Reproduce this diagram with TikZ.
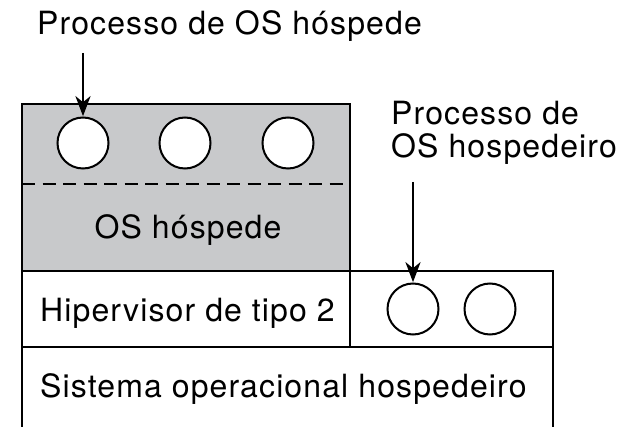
\documentclass[tikz,border=0pt]{standalone}
\usepackage{fontspec}
\setmainfont{TeX Gyre Heros}[LetterSpace=3.5]
\usetikzlibrary{arrows.meta}
\definecolor{boxgray}{RGB}{200,201,203}
\tikzset{
  layer/.style={draw=black, line width=2.7pt},
  proc/.style={circle, draw=black, fill=white, line width=2pt, minimum size=51pt, inner sep=0pt},
  txt/.style={font=\fontsize{32}{34}\selectfont, inner sep=0pt},
  lbl/.style={txt, anchor=base west},
  pointer/.style={line width=2.7pt, -{Stealth[length=20pt,width=15pt,inset=6pt]}, shorten >=0.3pt}
}
\begin{document}
\begin{tikzpicture}[x=1pt, y=-1pt]
\useasboundingbox (0,0) rectangle (624,427);
% guest OS box
\fill[boxgray] (22,104) rectangle (350,271);
\draw[layer] (22,104) rectangle (350,271);
\draw[line width=2.7pt, dash pattern=on 13pt off 7.5pt] (22,184) -- (350,184);
% hypervisor row
\draw[layer] (22,271) rectangle (553,347);
\draw[layer] (350,271) -- (350,347);
% host OS box (bottom open)
\draw[layer] (22,430) -- (22,347) -- (553,347) -- (553,430);
% guest processes
\node[proc] (g1) at (83,143) {};
\node[proc] (g2) at (185,143) {};
\node[proc] (g3) at (288,143) {};
% host processes
\node[proc] (h1) at (413,309) {};
\node[proc] (h2) at (490,309) {};
% texts
\node[lbl] (title) at (37,35) {Processo de OS hóspede};
\node[lbl] (hl1) at (391,125) {Processo de};
\node[lbl] (hl2) at (391,158) {OS hospedeiro};
\node[txt, anchor=base] (guest) at (188,239) {OS hóspede};
\node[lbl] (hyp) at (40,322) {Hipervisor de tipo 2};
\node[lbl] (host) at (40,398) {Sistema operacional hospedeiro};
% pointers
\coordinate (t1) at (83,53);
\coordinate (t2) at (413,182);
\draw[pointer] (t1) -- (g1.north);
\draw[pointer] (t2) -- (h1.north);
\end{tikzpicture}
\end{document}
